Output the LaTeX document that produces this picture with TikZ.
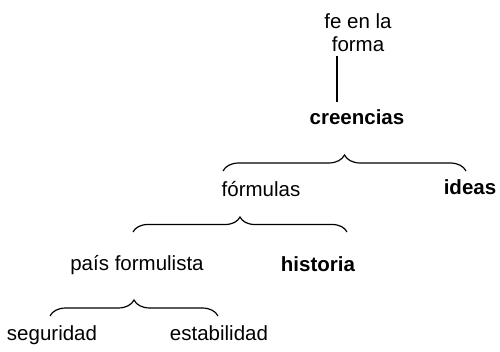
\documentclass[tikz,border=0pt]{standalone}
\usepackage{fontspec}
\setmainfont{Liberation Sans}
\usetikzlibrary{decorations.pathreplacing}

\tikzset{
    lbl/.style={anchor=base, inner sep=0pt, font=\fontsize{20.5}{23}\selectfont},
    llave/.style={line width=1.2pt, decorate, decoration={brace, amplitude=#1}}
}

\begin{document}
\begin{tikzpicture}[x=1pt, y=-1pt]
    \useasboundingbox (0,0) rectangle (500,352);

    % top: fe en la forma
    \node[lbl, anchor=center, align=center] (fe) at (358,33) {fe en la\\forma};
    \node[lbl] (cre) at (357,125) {\textbf{creencias}};
    \draw[line width=1.2pt] ([xshift=-21pt, yshift=-4pt]fe.south) -- ([xshift=-20pt, yshift=8pt]cre.north);

    % first brace
    \coordinate (b1a) at (223,171);
    \coordinate (b1b) at (466,171);
    \draw[llave=16pt] (b1a) -- (b1b);
    \node[lbl] (form) at (261,197) {fórmulas};
    \node[lbl] (ideas) at (470,195) {\textbf{ideas}};

    % second brace
    \coordinate (b2a) at (133,232);
    \coordinate (b2b) at (347,232);
    \draw[llave=15pt] (b2a) -- (b2b);
    \node[lbl] (pais) at (137,271) {país formulista};
    \node[lbl] (hist) at (318,272) {\textbf{historia}};

    % third brace
    \coordinate (b3a) at (50,316);
    \coordinate (b3b) at (218,316);
    \draw[llave=16pt] (b3a) -- (b3b);
    \node[lbl] (seg) at (52,340) {seguridad};
    \node[lbl] (est) at (219,340) {estabilidad};
\end{tikzpicture}
\end{document}
